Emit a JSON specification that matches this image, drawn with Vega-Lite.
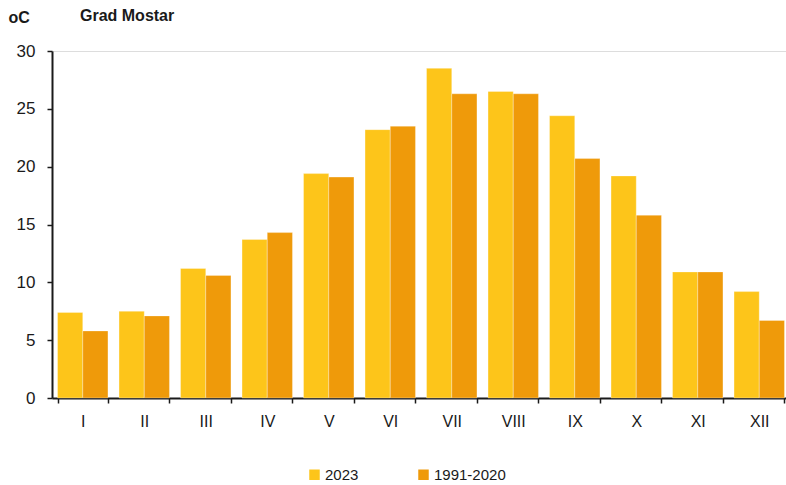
{
  "$schema": "https://vega.github.io/schema/vega-lite/v6.json",
  "autosize": {"type": "none"},
  "padding": {"left": 52, "top": 51, "right": 0, "bottom": 87},
  "width": 738,
  "height": 347,
  "background": "white",
  "title": {
    "text": "Grad Mostar",
    "anchor": "start",
    "font": "Liberation Sans",
    "fontSize": 16,
    "fontWeight": "bold",
    "color": "#1a1a1a",
    "dx": 72,
    "offset": 0,
    "dy": 15
  },
  "data": {
    "values": [
      {"month": "I", "series": "2023", "value": 7.4},
      {"month": "I", "series": "1991-2020", "value": 5.8},
      {"month": "II", "series": "2023", "value": 7.5},
      {"month": "II", "series": "1991-2020", "value": 7.1},
      {"month": "III", "series": "2023", "value": 11.2},
      {"month": "III", "series": "1991-2020", "value": 10.6},
      {"month": "IV", "series": "2023", "value": 13.7},
      {"month": "IV", "series": "1991-2020", "value": 14.3},
      {"month": "V", "series": "2023", "value": 19.4},
      {"month": "V", "series": "1991-2020", "value": 19.1},
      {"month": "VI", "series": "2023", "value": 23.2},
      {"month": "VI", "series": "1991-2020", "value": 23.5},
      {"month": "VII", "series": "2023", "value": 28.5},
      {"month": "VII", "series": "1991-2020", "value": 26.3},
      {"month": "VIII", "series": "2023", "value": 26.5},
      {"month": "VIII", "series": "1991-2020", "value": 26.3},
      {"month": "IX", "series": "2023", "value": 24.4},
      {"month": "IX", "series": "1991-2020", "value": 20.7},
      {"month": "X", "series": "2023", "value": 19.2},
      {"month": "X", "series": "1991-2020", "value": 15.8},
      {"month": "XI", "series": "2023", "value": 10.9},
      {"month": "XI", "series": "1991-2020", "value": 10.9},
      {"month": "XII", "series": "2023", "value": 9.2},
      {"month": "XII", "series": "1991-2020", "value": 6.7}
    ]
  },
  "mark": {"type": "bar", "stroke": "#ffffff", "strokeOpacity": 0.3, "strokeWidth": 1},
  "encoding": {
    "x": {
      "field": "month",
      "type": "nominal",
      "sort": ["I", "II", "III", "IV", "V", "VI", "VII", "VIII", "IX", "X", "XI", "XII"],
      "scale": {"paddingInner": 0.18, "paddingOuter": 0.09},
      "axis": {
        "title": null,
        "labelAngle": 0,
        "labelFont": "Liberation Sans",
        "labelFontSize": 16,
        "labelColor": "#1a1a1a",
        "labelPadding": 10,
        "tickBand": "extent",
        "tickSize": 5,
        "tickColor": "#1a1a1a",
        "tickWidth": 1.5,
        "domainColor": "#1a1a1a",
        "domainWidth": 2,
        "grid": false
      }
    },
    "xOffset": {
      "field": "series",
      "type": "nominal",
      "sort": ["2023", "1991-2020"],
      "scale": {"paddingInner": 0, "paddingOuter": 0}
    },
    "y": {
      "field": "value",
      "type": "quantitative",
      "scale": {"domain": [0, 30], "nice": false},
      "axis": {
        "values": [0, 5, 10, 15, 20, 25, 30],
        "grid": false,
        "title": "oC",
        "titleAngle": 0,
        "titleX": -44,
        "titleY": -34,
        "titleAlign": "left",
        "titleBaseline": "middle",
        "titleFont": "Liberation Sans",
        "titleFontSize": 16,
        "titleFontWeight": "bold",
        "titleColor": "#1a1a1a",
        "labelFont": "Liberation Sans",
        "labelFontSize": 17,
        "labelColor": "#1a1a1a",
        "labelPadding": 12,
        "tickSize": 5,
        "tickColor": "#1a1a1a",
        "tickWidth": 1.5,
        "domainColor": "#1a1a1a",
        "domainWidth": 2
      }
    },
    "color": {
      "field": "series",
      "type": "nominal",
      "sort": ["2023", "1991-2020"],
      "scale": {"domain": ["2023", "1991-2020"], "range": ["#FDC51A", "#EF9A0A"]},
      "legend": {
        "title": null,
        "orient": "none",
        "direction": "horizontal",
        "legendX": 255,
        "legendY": 416,
        "symbolType": "square",
        "symbolSize": 110,
        "symbolStrokeWidth": 0,
        "labelFont": "Liberation Sans",
        "labelFontSize": 15,
        "labelColor": "#1a1a1a",
        "labelOffset": 3,
        "columnPadding": 57
      }
    }
  }
}
